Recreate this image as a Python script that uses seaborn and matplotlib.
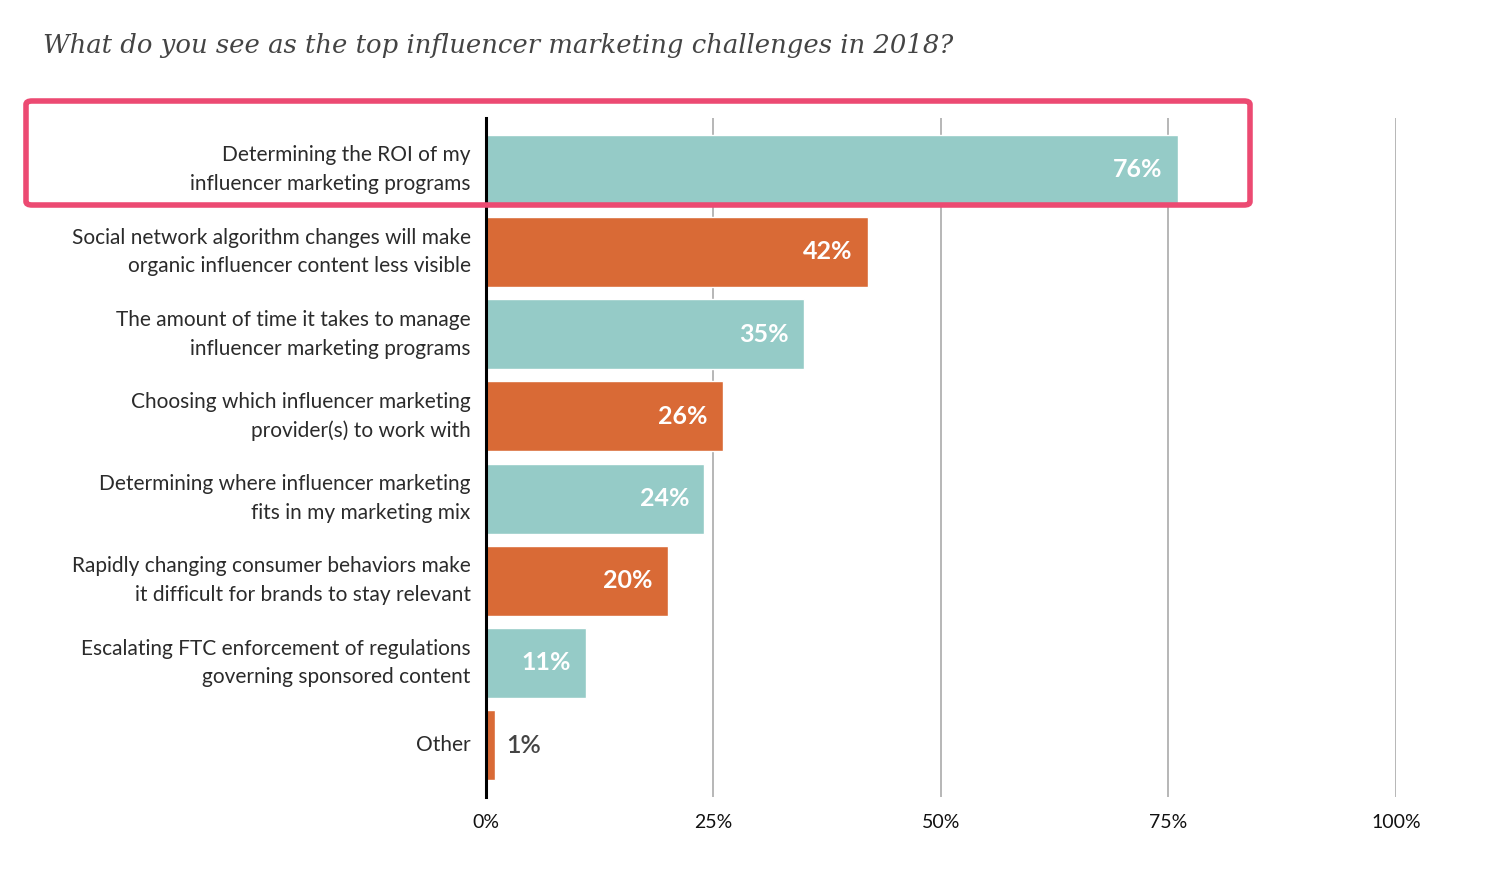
import matplotlib
matplotlib.use("Agg")
import matplotlib.pyplot as plt
import seaborn as sns
import pandas as pd
from matplotlib.patches import FancyBboxPatch

title = "What do you see as the top influencer marketing challenges in 2018?"
categories = [
    "Determining the ROI of my\ninfluencer marketing programs",
    "Social network algorithm changes will make\norganic influencer content less visible",
    "The amount of time it takes to manage\ninfluencer marketing programs",
    "Choosing which influencer marketing\nprovider(s) to work with",
    "Determining where influencer marketing\nfits in my marketing mix",
    "Rapidly changing consumer behaviors make\nit difficult for brands to stay relevant",
    "Escalating FTC enforcement of regulations\ngoverning sponsored content",
    "Other",
]
values = [76, 42, 35, 26, 24, 20, 11, 1]
bar_colors = ["#95CBC7", "#D96A36", "#95CBC7", "#D96A36",
              "#95CBC7", "#D96A36", "#95CBC7", "#D96A36"]
xticks = [0, 25, 50, 75, 100]
xtick_labels = ["0%", "25%", "50%", "75%", "100%"]

df = pd.DataFrame({"challenge": categories, "pct": values})

sns.set_theme(style="white")
plt.rcParams["font.family"] = ["Lato", "DejaVu Sans"]

fig = plt.figure(figsize=(14.98, 8.82), dpi=100)
ax = fig.add_axes([0.3244, 0.0964, 0.6075, 0.7698])

sns.barplot(data=df, x="pct", y="challenge", hue="challenge",
            palette=bar_colors, legend=False, width=0.85,
            saturation=1, ax=ax, orient="h")

ax.set_xlim(0, 100)
ax.set_ylim(len(categories) - 0.37, -0.63)
ax.set_xticks(xticks)
ax.set_xticklabels(xtick_labels, fontsize=14, color="#111111")
ax.tick_params(axis="x", length=0, pad=12)
ax.tick_params(axis="y", length=0, pad=11, labelsize=15, labelcolor="#2b2b2b")
ax.set_xlabel("")
ax.set_ylabel("")
for lbl in ax.get_yticklabels():
    lbl.set_linespacing(1.55)
    lbl.set_verticalalignment("center")

ax.xaxis.grid(True, color="#aaaaaa", linewidth=1.2)
ax.set_axisbelow(True)
for s in ["top", "right", "bottom"]:
    ax.spines[s].set_visible(False)
ax.spines["left"].set_color("black")
ax.spines["left"].set_linewidth(2.2)
ax.spines["left"].set_zorder(5)

for i, v in enumerate(values):
    if v >= 5:
        ax.annotate(f"{v}%", xy=(v, i), xytext=(-11, 0), textcoords="offset points",
                    ha="right", va="center", color="white", fontsize=18,
                    fontweight="bold")
    else:
        ax.annotate(f"{v}%", xy=(v, i), xytext=(8, 0), textcoords="offset points",
                    ha="left", va="center", color="#444444", fontsize=18,
                    fontweight="semibold")

fig.text(43 / 1498, 1 - 45 / 882, title, family="DejaVu Serif", style="italic",
         fontsize=18.6, color="#444444", ha="left", va="center")

box = FancyBboxPatch((26 / 1498, 1 - 205 / 882), (1250 - 26) / 1498, (205 - 101) / 882,
                     boxstyle="round,pad=0,rounding_size=0.004",
                     transform=fig.transFigure, fill=False,
                     edgecolor="#EC4A72", linewidth=4, zorder=10)
fig.patches.append(box)

fig.savefig("out.png", dpi=100)
